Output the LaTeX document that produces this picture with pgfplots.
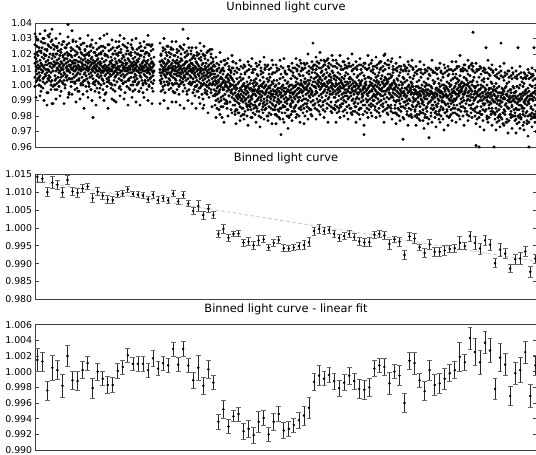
\documentclass[border=0pt]{standalone}
\usepackage{fontspec}
\setmainfont{DejaVu Sans}
\usepackage{pgfplots}
\usepackage{pgfplotstable}
\pgfplotsset{compat=1.18}

\pgfplotstableread{
x a b c d
0 1.020 1.005 1.014 1.033
1 1.009 1.017 1.002 1.012
2 1.015 1.025 1.007 1.011
3 1.004 1.013 1.019 1.029
4 1.011 1.000 1.022 1.008
5 1.016 1.006 1.012 1.003
6 1.021 1.010 0.999 1.014
7 1.008 1.018 1.013 1.024
8 1.002 1.012 1.027 1.009
9 1.017 1.005 1.011 1.020
10 1.013 1.023 1.007 1.035
11 1.006 1.015 1.019 1.010
12 1.022 0.987 1.013 1.008
13 1.010 1.016 1.026 1.004
14 1.018 1.009 1.003 1.014
15 1.005 1.012 1.020 1.033
16 1.014 1.024 1.008 1.000
17 1.011 1.003 1.017 1.036
18 1.019 0.988 1.013 1.009
19 1.000 1.015 1.023 1.012
20 1.013 1.006 1.018 0.997
21 1.009 1.020 1.004 1.014
22 1.016 1.011 1.025 1.001
23 1.005 1.014 1.010 1.022
24 1.012 0.999 1.017 1.008
25 1.019 1.009 1.003 1.013
26 1.007 1.015 1.021 1.011
27 1.014 1.002 1.010 1.026
28 1.010 1.018 1.006 1.012
29 1.003 1.013 1.016 1.008
30 1.017 1.007 1.000 1.020
31 1.011 1.024 1.014 1.005
32 1.006 1.012 1.009 1.017
33 1.015 1.039 1.019 1.010
34 1.020 1.009 1.013 0.994
35 1.008 1.016 1.004 1.012
36 1.013 1.022 1.011 1.002
37 1.004 1.010 1.018 1.015
38 1.011 1.028 1.007 1.014
39 1.016 1.005 1.012 1.009
40 1.009 1.014 1.002 1.019
41 1.012 1.006 1.016 1.010
42 1.003 1.011 1.021 1.007
43 1.015 1.008 1.013 0.996
44 1.018 1.010 1.004 1.012
45 1.007 1.023 1.011 1.015
46 1.010 1.001 1.017 1.009
47 1.014 1.012 1.005 1.020
48 1.000 1.016 1.010 1.013
49 1.011 1.007 1.019 1.003
50 1.017 1.013 1.008 1.022
51 1.006 1.010 1.015 0.999
52 1.012 1.020 1.004 1.011
53 1.009 1.002 1.014 1.016
54 1.019 1.011 1.007 1.010
55 1.005 1.015 1.012 1.025
56 1.013 1.008 0.997 1.017
57 1.010 1.018 1.014 1.006
58 1.016 0.979 1.011 1.009
59 1.002 1.012 1.021 1.014
60 1.008 1.015 1.011 1.000
61 1.013 1.003 1.019 1.010
62 1.006 1.012 1.009 1.016
63 1.017 1.007 1.014 1.002
64 1.011 1.020 1.005 1.009
65 0.998 1.010 1.015 1.013
66 1.014 1.006 1.008 1.021
67 1.009 1.017 1.012 1.004
68 1.003 1.011 1.025 1.008
69 1.015 1.009 1.001 1.012
70 1.010 1.019 1.013 1.006
71 1.007 0.995 1.011 1.016
72 1.012 1.033 1.004 1.009
73 1.018 1.008 1.010 1.002
74 1.005 1.013 1.022 1.011
75 1.009 1.001 1.015 1.007
76 1.014 1.010 1.006 1.018
77 1.000 1.016 1.012 1.009
78 1.011 1.007 1.020 1.013
79 1.008 1.012 1.003 0.990
80 1.013 1.009 1.017 1.005
81 1.006 1.015 1.011 1.020
82 1.010 1.002 1.014 1.008
83 1.019 1.012 1.007 1.011
84 1.004 1.016 1.010 1.028
85 1.012 1.008 0.999 1.015
86 1.015 1.021 1.009 1.006
87 1.009 1.003 1.013 1.017
88 1.007 1.014 1.011 1.001
89 1.018 1.010 1.005 1.012
90 1.011 1.006 1.016 1.009
91 1.002 1.013 1.020 1.014
92 1.014 1.009 1.007 1.011
93 1.010 1.017 1.003 1.022
94 1.016 1.004 1.012 1.008
95 0.997 1.011 1.015 1.010
96 1.013 1.019 1.008 1.005
97 1.008 1.012 1.024 1.014
98 1.012 1.000 1.010 1.017
99 1.005 1.015 1.013 1.009
100 1.011 1.007 1.018 1.002
101 1.014 1.010 1.006 1.013
102 1.004 1.016 1.012 1.009
103 1.009 1.001 1.020 1.015
104 1.017 1.011 1.008 0.996
105 1.006 1.013 1.010 1.019
106 1.012 1.022 1.005 1.008
107 1.010 1.003 1.014 1.011
108 1.015 1.009 1.000 1.012
109 1.007 1.018 1.011 1.016
110 1.013 1.006 1.009 1.002
111 1.001 1.012 1.015 1.021
112 1.010 1.008 1.014 1.005
113 1.016 1.011 1.003 1.009
114 1.008 1.019 1.013 1.026
115 1.012 1.004 1.007 1.010
116 1.005 1.014 1.017 1.011
117 1.011 1.009 0.998 1.015
118 1.014 1.006 1.012 1.008
119 1.009 1.013 1.018 1.003
125 1.010 1.003 1.015 1.008
126 1.006 1.013 1.019 1.001
127 1.012 1.008 1.004 1.016
128 1.015 1.010 0.997 1.009
129 1.002 1.011 1.014 1.007
130 1.009 1.017 1.006 1.012
131 1.013 1.005 1.010 1.021
132 1.007 1.014 1.002 1.008
133 1.011 1.000 1.016 1.010
134 1.004 1.012 1.008 1.015
135 1.018 1.007 1.011 1.003
136 1.008 1.013 1.023 1.006
137 1.014 1.009 1.001 1.011
138 1.005 1.010 1.016 1.012
139 1.010 1.019 1.007 0.995
140 1.012 1.004 1.009 1.015
141 1.003 1.011 1.014 1.007
142 1.009 1.016 1.006 1.001
143 1.014 1.008 1.012 1.018
144 1.006 0.999 1.010 1.013
145 1.011 1.015 1.003 1.008
146 1.017 1.007 1.012 1.005
147 1.002 1.010 1.016 1.009
148 1.008 1.013 1.004 1.036
149 1.013 1.006 1.011 1.000
150 1.005 1.018 1.009 1.014
151 1.010 1.003 1.015 1.007
152 1.015 1.011 0.996 1.008
153 1.007 1.012 1.020 1.004
154 1.001 1.009 1.013 1.011
155 1.012 1.016 1.006 1.002
156 1.009 1.005 1.014 1.010
157 1.014 1.008 1.001 1.017
158 1.004 1.011 1.009 1.013
159 1.010 1.019 1.007 0.997
160 1.008 1.002 1.012 1.006
161 1.011 0.999 1.005 1.015
162 1.003 1.009 1.014 1.000
163 1.007 1.013 0.996 1.010
164 1.012 1.006 1.002 1.017
165 0.998 1.010 1.008 1.004
166 1.009 1.016 1.001 1.011
167 1.005 0.994 1.013 1.007
168 1.014 1.003 1.010 0.985
169 1.001 1.008 1.019 1.006
170 1.010 1.012 1.004 0.997
171 1.006 1.000 1.011 1.014
172 0.996 1.009 1.007 1.002
173 1.012 1.005 1.016 1.008
174 1.003 1.013 0.998 1.010
175 1.008 1.001 1.006 1.023
176 1.011 1.007 1.014 0.995
177 1.000 1.010 1.004 1.009
178 1.007 1.015 1.002 1.012
179 1.013 0.997 1.009 1.005
180 1.003 0.993 1.007 1.000
181 0.996 1.005 0.990 1.002
182 1.001 0.998 1.009 0.994
183 1.006 0.991 0.999 1.003
184 0.995 1.002 1.011 0.989
185 1.000 1.008 0.997 1.004
186 0.992 0.999 1.005 0.986
187 1.004 0.979 1.001 1.010
188 0.998 1.007 0.993 1.002
189 1.009 0.997 1.003 0.991
190 0.994 1.001 1.013 0.999
191 1.002 0.990 1.005 1.000
192 0.999 1.006 0.996 0.988
193 1.007 0.998 1.002 1.004
194 0.993 1.003 1.010 0.997
195 1.001 0.989 0.999 1.006
196 1.005 1.000 0.995 1.008
197 0.997 1.011 1.004 0.992
198 1.003 0.994 1.000 1.015
199 0.991 1.002 1.007 0.998
200 0.995 0.987 0.999 0.990
201 1.000 0.993 0.984 0.997
202 0.989 0.998 0.992 1.004
203 0.994 0.982 1.001 0.991
204 1.002 0.996 0.988 0.993
205 0.986 0.992 0.998 1.005
206 0.997 1.003 0.990 0.994
207 0.991 0.985 0.999 0.996
208 1.004 0.993 0.989 1.000
209 0.995 1.001 0.981 0.992
210 0.999 0.990 0.997 1.007
211 0.988 0.998 0.994 0.991
212 0.996 0.987 1.002 0.999
213 0.992 1.000 0.995 0.984
214 1.005 0.989 0.998 0.993
215 0.990 0.997 0.986 1.001
216 0.998 0.992 1.003 0.988
217 0.993 1.008 0.991 0.996
218 1.001 0.994 0.987 0.997
219 0.985 0.999 0.996 1.003
220 0.994 1.002 0.989 0.997
221 1.000 0.986 0.993 1.004
222 0.990 0.996 1.001 0.983
223 0.997 0.991 1.006 0.995
224 0.987 0.999 0.992 0.998
225 1.003 0.994 0.996 0.988
226 0.992 1.007 0.990 1.000
227 0.996 0.984 0.999 0.993
228 1.001 0.995 0.988 1.005
229 0.989 0.998 1.002 0.991
230 0.999 0.987 0.994 1.010
231 0.995 1.000 0.985 0.996
232 1.004 0.990 0.997 0.992
233 0.993 0.998 0.980 1.002
234 0.986 1.003 0.995 0.999
235 0.998 0.992 1.005 0.989
236 0.991 0.996 1.000 0.994
237 1.002 0.988 0.993 1.007
238 0.994 1.001 0.984 0.997
239 0.996 0.990 1.003 0.992
240 0.992 0.999 0.986 0.996
241 0.987 0.994 1.000 0.981
242 0.997 0.989 0.995 1.003
243 0.984 0.998 0.991 0.993
244 1.001 0.988 0.996 0.990
245 0.994 1.004 0.985 0.998
246 0.989 0.995 0.968 0.992
247 0.999 0.982 0.993 0.997
248 0.993 1.000 0.987 1.005
249 0.996 0.991 0.998 0.986
250 0.986 1.003 0.994 0.989
251 0.998 0.992 1.007 0.995
252 0.990 0.996 0.988 1.001
253 1.002 0.984 0.997 0.991
254 0.991 0.999 0.980 0.996
255 0.995 0.987 1.000 0.993
256 0.988 0.997 0.992 1.004
257 1.000 0.990 0.995 0.983
258 0.994 1.006 0.989 0.998
259 0.985 0.995 0.999 0.992
260 0.999 0.991 1.005 0.996
261 0.993 1.002 0.987 1.000
262 1.004 0.997 0.994 1.009
263 0.989 1.001 0.998 0.992
264 0.998 0.995 1.007 0.990
265 0.992 1.006 0.996 1.000
266 1.001 0.986 1.003 0.997
267 0.995 1.000 0.990 1.011
268 1.006 0.993 0.999 0.996
269 0.991 0.998 1.002 0.985
270 0.997 1.004 0.988 1.001
271 1.002 0.994 0.998 0.991
272 0.988 0.999 1.008 0.997
273 1.000 0.990 0.995 1.003
274 0.996 1.007 1.001 0.993
275 1.003 0.992 0.984 0.998
276 0.994 0.997 1.005 0.989
277 1.008 0.995 1.000 0.996
278 0.990 1.002 0.993 1.027
279 0.999 0.987 1.004 1.013
280 1.002 0.994 1.008 0.999
281 0.996 1.005 0.998 1.010
282 1.007 0.991 1.001 0.995
283 1.000 1.003 0.989 1.006
284 0.993 1.011 0.999 1.002
285 1.004 0.997 1.005 0.990
286 0.998 1.008 0.994 1.001
287 1.009 0.999 1.003 0.992
288 0.995 1.006 0.987 1.000
289 1.001 0.996 1.007 1.013
290 0.990 1.004 1.000 0.997
291 1.005 0.993 1.010 0.999
292 0.999 1.002 0.995 1.008
293 0.997 1.012 1.001 0.991
294 1.006 0.998 0.992 1.003
295 0.994 1.007 1.002 0.996
296 1.003 0.989 0.999 1.005
297 0.998 1.001 1.009 0.994
298 1.008 0.995 0.997 1.000
299 0.992 1.004 1.006 0.985
300 0.999 0.992 1.006 0.996
301 0.994 1.003 0.989 1.001
302 1.005 0.997 1.000 0.986
303 0.990 1.008 0.995 0.998
304 1.001 0.993 1.004 0.997
305 0.996 0.999 0.987 1.007
306 1.003 0.991 0.998 1.002
307 0.988 1.001 1.005 0.994
308 0.998 1.010 0.992 1.000
309 1.004 0.995 0.999 0.990
310 0.993 1.006 0.997 1.002
311 1.000 0.989 1.008 0.995
312 0.997 1.002 0.993 1.012
313 1.007 0.996 1.001 0.991
314 0.992 0.998 1.004 0.999
315 1.002 0.985 0.995 1.005
316 0.995 1.004 1.000 0.993
317 1.009 0.997 0.990 0.998
318 0.991 1.001 1.003 0.996
319 0.999 0.994 1.007 0.988
320 0.996 1.002 0.989 0.999
321 1.001 0.991 0.997 0.986
322 0.992 1.005 1.000 0.995
323 1.006 0.994 0.988 0.998
324 0.995 0.999 1.003 0.991
325 0.997 0.985 1.001 1.007
326 0.989 1.000 0.996 1.002
327 1.003 0.992 1.008 0.994
328 0.993 0.998 0.990 0.997
329 0.999 1.006 0.995 0.968
330 0.987 1.001 0.998 1.004
331 1.002 0.996 0.991 1.000
332 0.994 1.010 0.997 0.989
333 0.998 0.990 1.005 0.993
334 1.005 0.995 0.987 0.999
335 0.991 1.002 1.000 0.996
336 1.000 0.988 1.004 1.009
337 0.996 0.997 0.992 1.001
338 1.008 0.993 0.999 0.990
339 0.990 1.003 0.994 0.998
340 1.000 0.993 1.007 0.997
341 0.992 1.002 0.996 1.005
342 1.003 0.988 0.999 0.994
343 0.995 1.006 0.991 1.001
344 1.008 0.998 1.002 0.989
345 0.997 0.994 1.010 1.000
346 0.990 1.004 0.997 0.993
347 1.002 0.996 1.006 0.998
348 0.993 1.009 0.986 1.001
349 0.999 0.991 1.003 0.996
350 1.005 1.000 0.994 1.020
351 0.996 0.989 1.001 1.004
352 1.001 1.003 0.992 0.997
353 0.987 0.998 1.007 1.002
354 1.004 0.995 0.997 0.991
355 0.994 1.007 1.000 0.999
356 0.998 0.992 1.005 0.985
357 1.006 1.001 0.993 1.000
358 0.995 0.997 1.008 0.992
359 1.003 0.990 0.998 1.002
360 0.994 1.001 0.987 0.997
361 0.999 0.989 1.000 0.982
362 0.990 0.996 1.004 0.993
363 1.003 0.985 0.995 0.998
364 0.992 1.000 0.990 1.006
365 0.997 0.994 1.008 0.988
366 0.986 1.002 0.993 0.996
367 1.000 0.991 0.998 0.995
368 0.995 1.005 0.965 1.001
369 1.004 0.993 0.996 0.989
370 0.989 0.998 1.002 0.994
371 0.998 0.987 0.992 1.009
372 0.993 1.003 0.997 0.990
373 1.007 0.995 0.988 0.999
374 0.991 1.000 0.996 0.985
375 0.996 0.990 1.005 0.998
376 1.002 0.997 0.994 0.980
377 0.987 0.999 1.001 0.995
378 0.999 0.992 0.989 1.004
379 0.994 1.006 0.997 0.991
380 0.990 0.997 0.984 0.995
381 0.996 0.986 0.999 0.991
382 0.987 0.994 0.981 1.002
383 0.999 0.989 0.995 0.992
384 0.993 1.003 0.988 0.998
385 0.983 0.996 0.994 0.986
386 0.998 0.991 1.005 0.993
387 0.988 1.000 0.990 0.996
388 0.995 0.982 0.997 0.989
389 1.002 0.992 0.987 0.994
390 0.991 0.999 0.996 0.979
391 0.997 0.985 0.993 1.001
392 0.986 0.995 1.000 0.991
393 0.994 0.988 1.004 0.997
394 1.000 0.993 0.989 0.966
395 0.989 1.006 0.994 0.996
396 0.996 0.990 0.985 0.999
397 0.992 0.998 0.995 0.987
398 1.003 0.987 0.991 0.994
399 0.985 0.994 1.001 0.993
400 0.995 0.989 1.002 0.992
401 0.987 0.997 0.983 0.998
402 0.998 0.993 0.994 0.986
403 0.991 1.004 0.988 0.996
404 1.001 0.990 0.997 0.981
405 0.984 0.995 0.999 0.993
406 0.996 0.986 0.992 1.003
407 0.989 1.000 0.995 0.990
408 1.005 0.992 0.985 0.994
409 0.993 0.998 0.989 1.000
410 0.988 0.982 0.996 0.997
411 0.999 0.994 0.987 0.993
412 0.992 1.002 0.998 0.984
413 0.997 0.988 0.993 1.006
414 0.986 0.996 1.001 0.991
415 0.994 0.990 0.980 0.999
416 1.000 1.003 0.992 0.988
417 0.990 0.993 0.997 0.995
418 0.995 0.985 1.004 0.989
419 0.987 0.998 0.991 0.996
420 0.999 0.990 1.005 0.995
421 0.991 1.001 0.994 1.007
422 1.004 0.987 0.997 0.992
423 0.994 0.998 0.984 1.002
424 1.000 0.993 1.003 0.996
425 0.988 1.006 0.995 0.999
426 0.997 0.991 1.001 0.986
427 1.002 0.996 0.989 0.998
428 0.992 1.009 0.999 0.994
429 1.005 0.994 0.990 1.001
430 0.995 1.000 0.996 0.983
431 0.998 0.988 1.004 0.997
432 0.990 1.003 0.993 1.000
433 1.001 0.995 1.007 0.991
434 0.993 0.999 0.987 0.996
435 1.006 0.990 0.998 1.002
436 0.987 0.997 0.992 0.994
437 0.996 1.002 1.000 1.010
438 1.003 0.992 0.988 1.034
439 0.994 1.005 0.999 0.990
440 0.991 0.998 0.985 0.996
441 0.999 0.961 0.995 0.992
442 0.986 0.994 1.002 0.982
443 0.996 0.989 0.993 1.000
444 0.993 1.005 0.960 0.997
445 0.983 0.997 0.994 0.990
446 1.000 0.992 0.998 0.986
447 0.990 1.003 0.981 0.995
448 0.995 0.988 0.999 0.993
449 1.002 0.991 0.987 1.004
450 0.988 0.996 0.992 0.998
451 0.997 0.984 1.024 0.994
452 0.992 1.000 0.990 0.979
453 1.004 0.993 0.995 0.989
454 0.987 0.998 0.985 0.997
455 0.994 0.989 1.006 0.992
456 0.998 0.995 0.988 1.002
457 0.985 1.001 0.993 0.991
458 0.996 0.990 0.997 0.983
459 0.989 0.960 0.994 0.999
460 0.989 0.997 0.982 0.993
461 0.996 0.985 0.991 1.001
462 0.983 0.992 0.998 0.988
463 0.993 0.979 0.995 0.990
464 0.999 0.987 0.984 1.004
465 0.990 0.995 0.988 0.981
466 0.986 1.027 0.993 0.992
467 0.995 0.989 0.978 0.998
468 0.982 0.994 0.997 0.991
469 0.992 0.984 1.003 0.996
470 0.998 0.991 0.987 0.983
471 0.988 0.999 0.994 0.976
472 0.994 0.986 1.001 0.993
473 0.985 0.996 0.990 0.990
474 1.002 0.989 0.992 0.985
475 0.991 0.993 0.981 0.997
476 0.997 0.983 0.995 0.989
477 0.987 1.004 0.986 0.992
478 0.993 0.990 0.999 0.980
479 0.984 0.998 0.991 0.995
480 0.989 0.995 0.982 0.993
481 0.996 0.985 0.992 0.978
482 0.984 0.991 0.999 0.988
483 0.993 0.980 0.989 1.024
484 0.987 0.998 0.984 0.991
485 1.000 0.990 0.994 0.981
486 0.979 0.994 0.987 0.992
487 0.991 0.986 1.002 0.985
488 0.995 0.993 0.983 0.999
489 0.985 1.001 0.989 0.976
490 0.994 0.988 0.996 0.990
491 0.982 0.997 0.991 1.004
492 0.992 0.983 0.995 0.987
493 0.998 0.989 0.980 0.993
494 0.988 0.996 0.990 0.960
495 0.993 0.981 1.000 0.991
496 0.986 0.994 0.985 1.007
497 0.999 0.991 0.993 0.982
498 0.990 0.984 1.003 0.995
499 0.981 0.995 1.024 0.992
500 0.996 0.987 0.998 0.979
501 0.991 1.000 0.983 0.994
}\unbinned

\pgfplotstableread{
x e f g
0 1.026 0.999 1.018
2 1.003 1.029 1.021
4 1.024 1.000 1.005
6 0.996 1.022 1.028
8 1.030 1.004 0.998
10 1.001 1.027 1.019
12 1.023 0.995 1.002
14 1.006 1.031 1.025
16 1.028 1.002 0.997
18 0.999 1.020 1.026
20 1.025 1.000 1.003
22 0.997 1.024 1.020
24 1.022 1.002 1.027
26 1.005 0.996 1.023
28 1.028 1.019 1.001
30 1.000 1.024 0.998
32 1.021 1.003 1.026
34 0.995 1.027 1.004
36 1.024 0.999 1.019
38 1.002 1.023 1.029
40 1.022 0.997 1.001
42 0.998 1.025 1.020
44 1.024 1.003 0.996
46 1.000 1.021 1.026
48 1.027 0.994 1.002
50 1.003 1.023 1.019
52 0.996 1.020 1.025
54 1.021 1.001 0.999
56 1.026 0.997 1.022
58 1.001 1.024 1.004
60 1.021 0.996 1.002
62 0.998 1.023 1.019
64 1.024 1.001 0.995
66 1.000 1.020 1.025
68 1.022 0.997 1.003
70 0.994 1.024 1.020
72 1.019 1.002 0.999
74 1.003 1.026 1.022
76 1.023 0.998 1.001
78 0.997 1.020 1.024
80 1.022 1.000 0.996
82 1.002 1.024 1.020
84 0.998 1.021 1.025
86 1.023 1.003 0.997
88 1.001 1.026 1.019
90 1.025 0.995 1.002
92 0.999 1.022 1.024
94 1.020 1.003 0.998
96 1.026 1.000 1.021
98 0.996 1.023 1.002
100 1.021 0.997 1.003
102 1.000 1.023 1.020
104 1.024 1.002 0.996
106 0.998 1.019 1.025
108 1.022 0.995 1.001
110 1.003 1.024 1.020
112 0.997 1.021 1.026
114 1.020 1.000 0.999
116 1.025 1.002 1.022
118 0.996 1.023 1.001
126 1.020 0.996 1.002
128 0.999 1.022 1.024
130 1.023 1.000 0.995
132 1.002 1.019 1.025
134 0.997 1.021 1.001
136 1.024 0.998 1.020
138 1.000 1.023 0.996
140 1.019 0.995 1.001
142 0.997 1.021 1.023
144 1.022 1.000 0.994
146 1.001 1.020 1.024
148 0.996 1.023 1.002
150 1.021 0.998 1.018
152 0.994 1.019 1.022
154 1.024 1.001 0.997
156 1.000 1.022 1.020
158 0.995 1.018 1.002
160 1.017 0.993 0.999
162 0.996 1.019 1.021
164 1.020 0.998 0.992
166 0.999 1.018 1.022
168 0.991 1.020 1.000
170 1.019 0.995 1.017
172 0.994 1.021 0.999
174 1.022 1.000 0.992
176 0.997 1.018 1.020
178 1.017 0.993 1.001
180 1.012 0.987 0.994
182 0.985 1.010 1.014
184 1.013 0.996 0.984
186 0.990 1.015 1.009
188 1.011 0.986 0.997
190 0.988 1.013 1.016
192 1.014 0.989 0.985
194 0.993 1.012 1.010
196 0.984 1.009 0.996
198 1.015 0.987 1.011
200 1.009 0.983 0.981
202 0.984 1.008 1.011
204 1.010 0.982 0.988
206 0.980 1.007 1.012
208 1.011 0.985 0.981
210 0.983 1.012 1.008
212 1.009 0.980 0.986
214 0.987 1.010 1.013
216 1.012 0.984 0.979
218 0.982 1.008 1.010
220 1.010 0.981 0.987
222 0.985 1.012 1.007
224 1.013 0.983 0.980
226 0.979 1.009 1.011
228 1.008 0.986 0.982
230 0.984 1.011 1.013
232 1.012 0.980 0.988
234 0.982 1.007 1.010
236 1.011 0.985 0.981
238 0.987 1.013 1.008
240 1.008 0.981 0.984
242 0.980 1.009 1.011
244 1.010 0.983 0.979
246 0.985 1.007 1.012
248 1.011 0.978 0.986
250 0.982 1.009 1.008
252 1.007 0.984 0.980
254 0.979 1.012 1.010
256 1.009 0.986 0.981
258 0.983 1.008 1.011
260 1.011 0.983 0.986
262 0.981 1.010 1.013
264 1.012 0.985 0.980
266 0.984 1.009 1.014
268 1.010 0.982 0.987
270 0.980 1.013 1.011
272 1.014 0.986 0.983
274 0.985 1.009 1.012
276 1.011 0.981 0.984
278 0.987 1.012 1.010
280 1.013 0.985 0.988
282 0.984 1.012 1.015
284 1.014 0.987 0.983
286 0.986 1.011 1.016
288 1.012 0.984 0.989
290 0.983 1.015 1.013
292 1.016 0.988 0.985
294 0.987 1.014 1.011
296 1.013 0.983 0.986
298 0.985 1.012 1.016
300 1.012 0.984 0.987
302 0.982 1.011 1.014
304 1.013 0.985 0.983
306 0.986 1.012 1.010
308 1.015 0.983 0.988
310 0.984 1.013 1.011
312 1.011 0.986 0.982
314 0.987 1.014 1.012
316 1.012 0.982 0.985
318 0.983 1.010 1.013
320 1.011 0.983 0.986
322 0.982 1.012 1.010
324 1.013 0.984 0.981
326 0.985 1.010 1.013
328 1.012 0.981 0.987
330 0.983 1.011 1.014
332 1.010 0.985 0.982
334 0.984 1.013 1.011
336 1.014 0.982 0.986
338 0.987 1.010 1.012
340 1.012 0.984 0.986
342 0.983 1.013 1.011
344 1.014 0.985 0.982
346 0.987 1.011 1.015
348 1.012 0.983 0.988
350 0.984 1.014 1.010
352 1.013 0.982 0.985
354 0.986 1.011 1.013
356 1.015 0.987 0.983
358 0.982 1.012 1.010
360 1.010 0.982 0.985
362 0.981 1.011 1.009
364 1.012 0.984 0.980
366 0.983 1.010 1.012
368 1.009 0.979 0.986
370 0.985 1.012 1.010
372 1.011 0.981 0.983
374 0.980 1.009 1.013
376 1.012 0.984 0.981
378 0.986 1.010 1.011
380 1.008 0.980 0.983
382 0.979 1.009 1.007
384 1.010 0.981 0.978
386 0.982 1.008 1.010
388 1.007 0.977 0.984
390 0.981 1.010 1.008
392 1.009 0.983 0.979
394 0.978 1.007 1.011
396 1.010 0.982 0.980
398 0.984 1.009 1.008
400 1.008 0.979 0.982
402 0.981 1.010 1.007
404 1.011 0.983 0.978
406 0.980 1.008 1.009
408 1.007 0.978 0.984
410 0.982 1.011 1.008
412 1.009 0.980 0.983
414 0.979 1.007 1.010
416 1.010 0.984 0.981
418 0.982 1.009 1.007
420 1.010 0.982 0.985
422 0.981 1.011 1.012
424 1.012 0.984 0.980
426 0.983 1.010 1.009
428 1.011 0.980 0.986
430 0.985 1.013 1.010
432 1.009 0.981 0.983
434 0.980 1.012 1.011
436 1.013 0.985 0.982
438 0.984 1.009 1.012
440 1.008 0.980 0.983
442 0.978 1.009 1.010
444 1.010 0.982 0.979
446 0.981 1.007 1.011
448 1.009 0.977 0.984
450 0.983 1.010 1.008
452 1.008 0.980 0.978
454 0.979 1.011 1.007
456 1.010 0.983 0.981
458 0.982 1.008 1.009
460 1.006 0.978 0.981
462 0.976 1.007 1.005
464 1.008 0.980 0.977
466 0.979 1.006 1.009
468 1.005 0.975 0.982
470 0.981 1.008 1.006
472 1.007 0.978 0.976
474 0.977 1.009 1.005
476 1.006 0.981 0.979
478 0.980 1.007 1.008
480 1.005 0.977 0.980
482 0.975 1.006 1.004
484 1.007 0.979 0.976
486 0.978 1.005 1.008
488 1.004 0.974 0.981
490 0.980 1.007 1.005
492 1.006 0.977 0.975
494 0.976 1.008 1.004
496 1.005 0.980 0.978
498 0.979 1.006 1.007
500 1.004 0.976 0.981
}\wide

\pgfplotstableread{
x h k
1 1.031 0.992
5 0.993 1.033
9 1.030 0.990
13 0.995 1.032
17 1.029 0.988
21 0.991 1.030
25 1.033 0.993
29 0.988 1.028
33 1.031 0.992
37 0.994 1.035
41 1.028 0.989
45 0.991 1.030
49 1.027 0.985
53 0.992 1.032
57 1.029 0.990
61 0.987 1.027
65 1.030 0.992
69 0.990 1.032
73 1.026 0.985
77 0.991 1.029
81 1.028 0.989
85 0.993 1.032
89 1.030 0.991
93 0.987 1.027
97 1.029 0.992
101 0.989 1.030
105 1.027 0.987
109 0.992 1.028
113 1.032 0.990
117 0.988 1.026
125 1.027 0.988
129 0.990 1.030
133 1.025 0.985
137 0.989 1.028
141 1.028 0.989
145 0.987 1.025
149 1.026 0.985
153 0.990 1.030
157 1.024 0.988
161 0.985 1.024
165 1.027 0.988
169 0.987 1.025
173 1.022 0.982
177 0.986 1.023
181 1.018 0.979
185 0.981 1.021
189 1.016 0.976
193 0.980 1.017
197 1.019 0.982
201 1.014 0.975
205 0.977 1.016
209 1.013 0.978
213 0.974 1.015
217 1.017 0.979
221 0.976 1.014
225 1.015 0.973
229 0.978 1.018
233 1.013 0.977
237 0.975 1.016
241 1.013 0.975
245 0.978 1.016
249 1.017 0.976
253 0.972 1.012
257 1.014 0.977
261 1.017 0.979
265 0.976 1.016
269 1.014 0.975
273 0.978 1.020
277 1.015 0.980
281 1.018 0.978
285 0.981 1.021
289 1.016 0.979
293 0.976 1.017
297 1.019 0.982
301 1.016 0.976
305 0.979 1.019
309 1.015 0.980
313 0.978 1.017
317 1.020 0.981
321 1.015 0.976
325 0.978 1.017
329 1.014 0.974
333 0.979 1.019
337 1.016 0.980
341 1.018 0.979
345 0.980 1.015
349 1.019 0.976
353 0.981 1.016
357 1.017 0.978
361 1.014 0.975
365 0.977 1.018
369 1.013 0.978
373 0.974 1.015
377 1.016 0.979
381 1.012 0.974
385 0.977 1.015
389 1.013 0.972
393 0.975 1.011
397 1.016 0.976
401 1.011 0.973
405 0.976 1.014
409 1.013 0.971
413 0.974 1.012
417 1.015 0.977
421 1.015 0.976
425 0.978 1.019
429 1.013 0.974
433 0.977 1.016
437 1.014 0.979
441 1.014 0.975
445 0.973 1.012
449 1.011 0.971
453 0.976 1.016
457 1.013 0.974
461 1.010 0.971
465 0.973 1.012
469 1.014 0.974
473 0.969 1.009
477 1.011 0.972
481 1.009 0.969
485 0.972 1.012
489 1.008 0.971
493 0.967 1.010
497 1.011 0.973
501 0.970 1.009
}\sparse

\pgfplotstableread{
i p2 p3 err
0 1.0143 1.0015 0.0015
1 1.0138 1.0013 0.0012
2 1.0100 0.9976 0.0012
3 1.0127 1.0005 0.0016
4 1.0121 1.0002 0.0012
5 1.0099 0.9982 0.0015
6 1.0134 1.0020 0.0013
7 1.0102 0.9989 0.0012
8 1.0098 0.9988 0.0012
9 1.0110 1.0002 0.0011
10 1.0116 1.0011 0.0009
11 1.0083 0.9979 0.0013
12 1.0101 1.0000 0.0011
13 1.0090 0.9991 0.0009
14 1.0079 0.9983 0.0011
15 1.0078 0.9983 0.0010
16 1.0093 1.0001 0.0009
17 1.0096 1.0006 0.0009
18 1.0108 1.0021 0.0009
19 1.0095 1.0010 0.0008
20 1.0093 1.0010 0.0009
21 1.0091 1.0010 0.0009
22 1.0080 1.0002 0.0009
23 1.0093 1.0017 0.0010
24 1.0078 1.0004 0.0009
25 1.0083 1.0011 0.0009
26 1.0077 1.0008 0.0009
27 1.0096 1.0029 0.0009
28 1.0074 1.0009 0.0009
29 1.0092 1.0029 0.0010
30 1.0068 1.0008 0.0009
31 1.0047 0.9989 0.0010
32 1.0061 1.0005 0.0016
33 1.0036 0.9982 0.0011
34 1.0054 1.0003 0.0011
35 1.0036 0.9986 0.0009
36 0.9983 0.9936 0.0010
37 0.9997 0.9952 0.0012
38 0.9972 0.9930 0.0009
39 0.9983 0.9943 0.0007
40 0.9984 0.9946 0.0009
41 0.9959 0.9924 0.0010
42 0.9961 0.9927 0.0011
43 0.9951 0.9919 0.0010
44 0.9965 0.9936 0.0013
45 0.9968 0.9941 0.0010
46 0.9945 0.9920 0.0009
47 0.9958 0.9936 0.0011
48 0.9966 0.9946 0.0010
49 0.9943 0.9925 0.0010
50 0.9942 0.9927 0.0009
51 0.9945 0.9932 0.0009
52 0.9949 0.9938 0.0010
53 0.9952 0.9944 0.0012
54 0.9960 0.9954 0.0013
55 0.9991 0.9987 0.0011
56 0.9997 0.9995 0.0013
57 0.9991 0.9991 0.0009
58 0.9994 0.9996 0.0010
59 0.9983 0.9988 0.0010
60 0.9972 0.9979 0.0010
61 0.9977 0.9986 0.0010
62 0.9983 0.9995 0.0011
63 0.9974 0.9988 0.0010
64 0.9962 0.9978 0.0012
65 0.9959 0.9977 0.0012
66 0.9960 0.9980 0.0012
67 0.9981 1.0004 0.0010
68 0.9983 1.0008 0.0009
69 0.9979 1.0006 0.0011
70 0.9955 0.9985 0.0014
71 0.9968 1.0000 0.0009
72 0.9961 0.9995 0.0013
73 0.9924 0.9960 0.0012
74 0.9976 1.0014 0.0011
75 0.9970 1.0011 0.0014
76 0.9946 0.9989 0.0009
77 0.9930 0.9975 0.0012
78 0.9954 1.0002 0.0013
79 0.9933 0.9983 0.0013
80 0.9933 0.9985 0.0013
81 0.9937 0.9991 0.0013
82 0.9941 0.9998 0.0011
83 0.9943 1.0002 0.0011
84 0.9958 1.0019 0.0018
85 0.9949 1.0012 0.0010
86 0.9977 1.0043 0.0014
87 0.9958 1.0025 0.0017
88 0.9942 1.0012 0.0015
89 0.9965 1.0037 0.0014
90 0.9953 1.0027 0.0015
91 0.9901 0.9978 0.0013
92 0.9939 1.0018 0.0018
93 0.9928 1.0009 0.0014
94 0.9886 0.9969 0.0012
95 0.9912 0.9998 0.0014
96 0.9914 1.0002 0.0016
97 0.9934 1.0025 0.0014
98 0.9877 0.9969 0.0015
99 0.9914 1.0008 0.0013
}\binned

\pgfplotstableread{
i fit
0 1.0130
99 0.9907
}\fitline

\pgfplotsset{
  panel/.style={
    scale only axis, width=502pt,
    anchor=south west,
    xtick=\empty,
    tick align=inside,
    major tick length=4pt,
    axis line style={black!75, line width=0.8pt},
    every tick/.style={black!75, line width=0.6pt},
    yticklabel style={font=\fontsize{9.4}{11}\selectfont, inner sep=2.6pt},
    /pgf/number format/assume math mode=true,
    title style={at={(0.5,1)}, anchor=base, yshift=6.6pt, font=\fontsize{11.4}{13}\selectfont},
    clip=true,
  },
  ebars/.style={
    only marks, mark=*, mark size=1.05pt, black,
    error bars/.cd, y dir=both, y explicit,
    error bar style={black!85, line width=0.75pt},
    error mark options={rotate=90, black!60, line width=0.75pt, mark size=2.4pt},
  },
  dots/.style={only marks, mark=*, mark size=1.3pt, black},
}

\begin{document}
\begin{tikzpicture}
\path[use as bounding box] (0,0) rectangle (536pt,455pt);

\begin{axis}[panel, at={(35pt,308pt)}, height=124pt,
  xmin=0, xmax=502, ymin=0.96, ymax=1.04,
  ytick={0.96,0.97,0.98,0.99,1.00,1.01,1.02,1.03,1.04},
  yticklabels={0.96,0.97,0.98,0.99,1.00,1.01,1.02,1.03,1.04},
  title={Unbinned light curve}]
\addplot[dots] table[x=x, y=a] {\unbinned};
\addplot[dots] table[x=x, y=b] {\unbinned};
\addplot[dots] table[x=x, y=c] {\unbinned};
\addplot[dots] table[x=x, y=d] {\unbinned};
\addplot[dots] table[x=x, y=e] {\wide};
\addplot[dots] table[x=x, y=f] {\wide};
\addplot[dots] table[x=x, y=g] {\wide};
\addplot[dots] table[x=x, y=h] {\sparse};
\addplot[dots] table[x=x, y=k] {\sparse};
\end{axis}

\begin{axis}[panel, at={(35pt,155.7pt)}, height=125pt,
  xmin=-0.46, xmax=99.34, ymin=0.980, ymax=1.015,
  ytick={0.980,0.985,0.990,0.995,1.000,1.005,1.010,1.015},
  yticklabels={0.980,0.985,0.990,0.995,1.000,1.005,1.010,1.015},
  title={Binned light curve}]
\addplot[black!22, line width=0.9pt, dash pattern=on 3.5pt off 2.5pt] table[x=i, y=fit] {\fitline};
\addplot[ebars] table[x=i, y=p2, y error=err] {\binned};
\end{axis}

\begin{axis}[panel, at={(35pt,5pt)}, height=125.3pt,
  xmin=-0.46, xmax=99.34, ymin=0.990, ymax=1.006,
  ytick={0.990,0.992,0.994,0.996,0.998,1.000,1.002,1.004,1.006},
  yticklabels={0.990,0.992,0.994,0.996,0.998,1.000,1.002,1.004,1.006},
  title={Binned light curve - linear fit}]
\addplot[ebars] table[x=i, y=p3, y error=err] {\binned};
\end{axis}
\end{tikzpicture}
\end{document}
